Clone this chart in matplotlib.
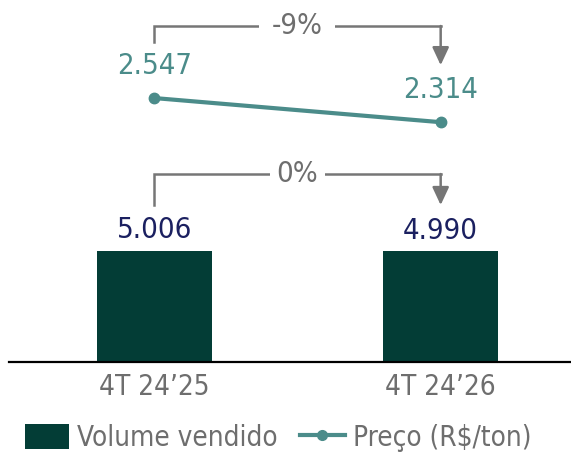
import numpy as np
import matplotlib
matplotlib.use("Agg")
import matplotlib.pyplot as plt
from matplotlib.patches import Patch
from matplotlib.lines import Line2D

#---- data ----
categories   = ["4T 24’25", "4T 24’26"]
volume       = [5006, 4990]
price        = [2547, 2314]
volume_label = ["5.006", "4.990"]
price_label  = ["2.547", "2.314"]
volume_delta = "0%"
price_delta  = "-9%"

#---- style ----
plt.rcParams['font.family']  = ['DejaVu Sans']
plt.rcParams['font.stretch'] = 'condensed'
c_bar   = "#033d36"
c_line  = "#4b8c8a"
c_navy  = "#1b2060"
c_gray  = "#6e6e6e"
c_brack = "#767676"

W, H = 571, 455
fig = plt.figure(figsize=(W/100, H/100), dpi=100)
ax  = fig.add_axes([9/W, (H-362)/H, (W-9)/W, 362/H])
ax2 = ax.twinx()

x = np.arange(len(categories))

#---- bars ----
ax.bar(x, volume, width=0.40, color=c_bar, zorder=2)
ax.set_ylim(0, 16330)
ax.set_xlim(-0.507, 1.455)

for i in range(len(x)):
  ax.annotate(volume_label[i], (x[i], volume[i]), xytext=(0, 15), textcoords="offset points",
              ha="center", va="center", fontsize=21, color=c_navy)

#---- line ----
ax2.plot(x, price, color=c_line, lw=3, marker="o", ms=7.5, zorder=3)
ax2.set_ylim(0, 3493)
for i in range(len(x)):
  ax2.annotate(price_label[i], (x[i], price[i]), xytext=(0, 23), textcoords="offset points",
               ha="center", va="center", fontsize=21, color=c_line)

#---- brackets ----
def bracket(axis, x0, x1, y_start, y_top, y_tip, text, pad):
  axis.plot([x0, x0, x1], [y_start, y_top, y_top], color=c_brack, lw=1.8,
            solid_joinstyle="miter", zorder=1)
  axis.annotate("", xy=(x1, y_tip), xytext=(x1, y_top),
                arrowprops=dict(arrowstyle="-|>,head_length=0.6,head_width=0.28",
                                color=c_brack, lw=1.8, shrinkA=0, shrinkB=0,
                                mutation_scale=18))
  axis.text((x0+x1)/2, y_top, text, ha="center", va="center", fontsize=21, color=c_gray,
            bbox=dict(facecolor="white", edgecolor="none", pad=pad), zorder=4)

bracket(ax2, x[0], x[1], price[0]+540, price[0]+695, price[1]+550, price_delta, 9)
bracket(ax,  x[0], x[1], volume[0]+2075, volume[0]+3473, volume[1]+2090, volume_delta, 5)

#---- axes ----
for s in ["top", "right", "left"]:
  ax.spines[s].set_visible(False)
  ax2.spines[s].set_visible(False)
ax2.spines["bottom"].set_visible(False)
ax.spines["bottom"].set_linewidth(1.6)
ax.spines["bottom"].set_color("black")
ax.set_yticks([])
ax2.set_yticks([])
ax.set_xticks(x)
ax.set_xticklabels(categories, fontsize=20, color=c_gray)
ax.tick_params(axis="x", length=0, pad=8)

#---- legend ----
handles = [Patch(facecolor=c_bar, edgecolor="none"),
           Line2D([], [], color=c_line, lw=3, marker="o", ms=7)]
fig.legend(handles, ["Volume vendido", "Preço (R$/ton)"], loc="center",
           bbox_to_anchor=(278/W, 17/H), ncol=2, frameon=False, fontsize=20,
           labelcolor=c_gray, handlelength=1.6, handleheight=1.04,
           handletextpad=0.3, columnspacing=0.8)

fig.savefig("out.png", dpi=100)
